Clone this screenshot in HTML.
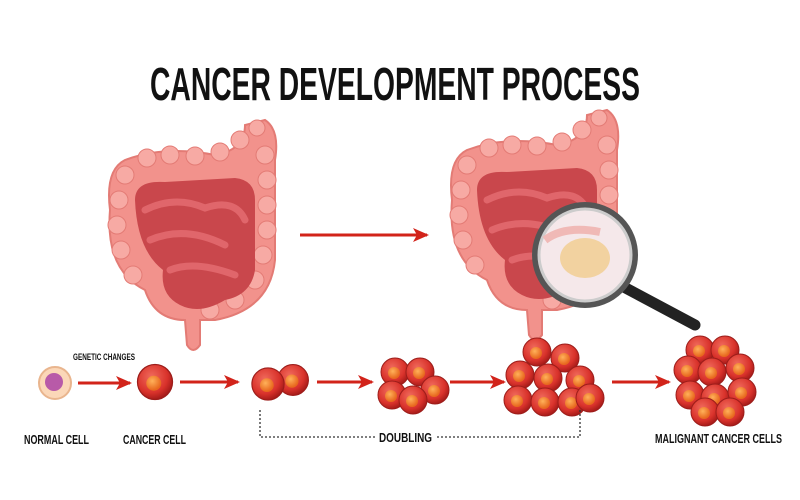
<!DOCTYPE html>
<html><head><style>
html,body{margin:0;padding:0;background:#fff;}
svg{display:block}
text{font-family:"Liberation Sans Narrow","Liberation Sans",sans-serif;font-weight:bold;fill:#111}
</style></head><body>
<svg width="800" height="500" viewBox="0 0 800 500" xmlns="http://www.w3.org/2000/svg">
<defs>
<radialGradient id="cell" cx="40%" cy="35%" r="65%"><stop offset="0" stop-color="#f06a5c"/><stop offset="0.7" stop-color="#d9322b"/><stop offset="1" stop-color="#a81c1a"/></radialGradient>
<radialGradient id="nuc" cx="40%" cy="35%" r="60%"><stop offset="0" stop-color="#ffb15a"/><stop offset="1" stop-color="#e8681e"/></radialGradient>
<g id="c"><circle r="14" fill="url(#cell)" stroke="#9c1d1a" stroke-width="1"/><circle cx="-1" cy="1" r="6" fill="url(#nuc)"/></g>
<marker id="ah" markerUnits="userSpaceOnUse" markerWidth="16" markerHeight="14" refX="14" refY="7" orient="auto"><path d="M0,0 L16,7 L0,14 L4,7 Z" fill="#d2231a"/></marker>
<g id="gut">
<path d="M20,40 Q60,25 110,35 Q140,30 140,5 L160,0 Q175,10 170,40 L170,140 Q165,190 110,200 L95,200 L95,225 Q88,235 82,225 L80,200 Q50,200 40,170 Q0,150 5,90 Q0,50 20,40 Z" fill="#f2928c" stroke="#e37b75" stroke-width="2"/>
<g fill="#f7aaa4" stroke="#e37b75" stroke-width="1">
<circle cx="20" cy="55" r="9"/><circle cx="14" cy="80" r="9"/><circle cx="12" cy="105" r="9"/><circle cx="16" cy="130" r="9"/><circle cx="28" cy="155" r="9"/>
<circle cx="42" cy="38" r="9"/><circle cx="65" cy="35" r="9"/><circle cx="90" cy="36" r="9"/><circle cx="115" cy="32" r="9"/><circle cx="135" cy="20" r="9"/><circle cx="152" cy="8" r="8"/>
<circle cx="160" cy="35" r="9"/><circle cx="162" cy="60" r="9"/><circle cx="162" cy="85" r="9"/><circle cx="162" cy="110" r="9"/><circle cx="158" cy="135" r="9"/><circle cx="150" cy="160" r="9"/><circle cx="130" cy="180" r="9"/><circle cx="105" cy="190" r="9"/>
</g>
<path d="M30,80 Q30,60 60,62 L130,58 Q150,60 150,80 L150,150 Q146,175 120,180 Q95,195 75,185 Q55,175 58,150 Q32,130 30,80 Z" fill="#c9474c"/>
<path d="M40,90 Q70,75 100,88 Q130,78 140,100 M45,120 Q80,105 120,125 M65,150 Q90,140 130,155" stroke="#e0666b" stroke-width="7" fill="none" stroke-linecap="round"/>
</g>
</defs>
<text x="395" y="100" font-size="46" text-anchor="middle" textLength="490" lengthAdjust="spacingAndGlyphs">CANCER DEVELOPMENT PROCESS</text>

<use href="#gut" transform="translate(105 120)"/>
<use href="#gut" transform="translate(447 110)"/>
<line x1="300" y1="235" x2="427" y2="235" stroke="#d2231a" stroke-width="3" marker-end="url(#ah)"/>

<line x1="620" y1="285" x2="695" y2="325" stroke="#222" stroke-width="11" stroke-linecap="round"/>
<circle cx="585" cy="255" r="50" fill="#f5e8ea" stroke="#555" stroke-width="6"/>
<circle cx="585" cy="255" r="46" fill="none" stroke="#ccc" stroke-width="3"/>
<ellipse cx="585" cy="258" rx="25" ry="20" fill="#f2d2a0"/>
<path d="M545,240 Q565,225 600,232" stroke="#f0b9b6" stroke-width="8" fill="none"/>

<circle cx="55" cy="383" r="16" fill="#fbd7b8" stroke="#e9b58e" stroke-width="2"/>
<circle cx="54" cy="382" r="9" fill="#b85aa8"/>
<text x="73" y="360" font-size="9" textLength="62" lengthAdjust="spacingAndGlyphs">GENETIC CHANGES</text>
<g stroke="#d2231a" stroke-width="3" marker-end="url(#ah)">
<line x1="78" y1="383" x2="130" y2="383"/>
<line x1="180" y1="382" x2="238" y2="382"/>
<line x1="317" y1="382" x2="372" y2="382"/>
<line x1="450" y1="382" x2="504" y2="382"/>
<line x1="612" y1="382" x2="669" y2="382"/>
</g>
<g transform="translate(155 382) scale(1.25)"><use href="#c"/></g>
<use href="#c" transform="translate(293 380) scale(1.1)"/>
<use href="#c" transform="translate(268 384) scale(1.15)"/>
<use href="#c" transform="translate(395 372)"/><use href="#c" transform="translate(420 372)"/>
<use href="#c" transform="translate(392 395)"/><use href="#c" transform="translate(435 390)"/><use href="#c" transform="translate(413 400)"/>
<g>
<use href="#c" transform="translate(537 352)"/><use href="#c" transform="translate(565 358)"/><use href="#c" transform="translate(520 375)"/>
<use href="#c" transform="translate(548 378)"/><use href="#c" transform="translate(580 380)"/><use href="#c" transform="translate(518 400)"/>
<use href="#c" transform="translate(545 402)"/><use href="#c" transform="translate(572 402)"/><use href="#c" transform="translate(590 398)"/>
</g>
<g>
<use href="#c" transform="translate(700 350)"/><use href="#c" transform="translate(725 350)"/><use href="#c" transform="translate(688 370)"/>
<use href="#c" transform="translate(712 372)"/><use href="#c" transform="translate(740 368)"/><use href="#c" transform="translate(690 395)"/>
<use href="#c" transform="translate(715 398)"/><use href="#c" transform="translate(742 392)"/><use href="#c" transform="translate(705 412)"/><use href="#c" transform="translate(730 412)"/>
</g>
<path d="M260,410 L260,437 L375,437 M437,437 L580,437 L580,410" stroke="#333" stroke-width="1.3" stroke-dasharray="2,2" fill="none"/>
<g font-size="13">
<text x="24" y="444" textLength="65" lengthAdjust="spacingAndGlyphs">NORMAL CELL</text>
<text x="123" y="444" textLength="63" lengthAdjust="spacingAndGlyphs">CANCER CELL</text>
<text x="379" y="442" textLength="53" lengthAdjust="spacingAndGlyphs">DOUBLING</text>
<text x="655" y="443" textLength="127" lengthAdjust="spacingAndGlyphs">MALIGNANT CANCER CELLS</text>
</g>
</svg>
</body></html>
